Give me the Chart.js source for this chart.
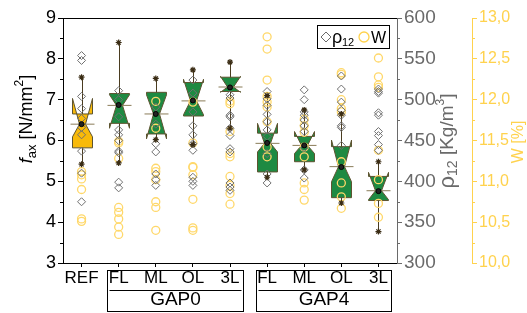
<!DOCTYPE html>
<html>
<head>
<meta charset="utf-8">
<script src="https://cdn.jsdelivr.net/npm/chart.js@4.4.1/dist/chart.umd.min.js"></script>
<style>
html, body { margin: 0; padding: 0; background: #fff; }
</style>
</head>
<body>
<canvas id="myChart" width="527" height="313"></canvas>
<script>
var categories = ['REF', 'FL', 'ML', 'OL', '3L', 'FL', 'ML', 'OL', '3L'];
var groupNames = ['GAP0', 'GAP4'];
var groupFrom = [1, 5];
var groupTo = [4, 8];

// f_ax box statistics, one value per category
var boxQ1 = [5.82, 6.42, 6.16, 6.60, 7.20, 5.23, 5.48, 4.60, 4.53];
var boxQ3 = [6.65, 7.15, 7.18, 7.42, 7.55, 6.18, 6.10, 5.85, 5.12];
var boxMedian = [6.40, 6.86, 6.65, 6.97, 7.31, 5.93, 5.88, 5.36, 4.77];
var notchLow = [6.09, 6.30, 6.04, 6.63, 7.18, 5.72, 5.68, 4.99, 4.55];
var notchHigh = [7.03, 7.12, 7.12, 7.50, 7.57, 6.42, 6.22, 6.01, 5.22];
var boxMean = [6.40, 6.87, 6.65, 6.98, 7.30, 5.94, 5.88, 5.35, 4.76];
var whiskerLow = [5.42, 5.45, 6.02, 5.90, 6.30, 5.10, 5.28, 4.47, 3.77];
var whiskerHigh = [7.55, 8.40, 7.52, 7.73, 7.92, 7.10, 6.75, 6.65, 5.48];

// density rho12 [kg/m3], per category
var rhoValues = [
    [554, 548, 504, 489, 477, 466, 457, 437, 410, 375],
    [511, 500, 479, 463, 457, 450, 437, 435, 399, 392],
    [491, 470, 446, 436, 409, 402, 395],
    [524, 508, 485, 468, 457, 446, 438, 405, 400, 395],
    [506, 502, 481, 479, 465, 456, 440, 436, 398, 393, 389],
    [510, 501, 493, 482, 473, 463, 455, 434, 409, 398],
    [512, 500, 485, 481, 475, 468, 461, 441, 414, 404],
    [529, 513, 497, 487, 481, 468, 466, 444],
    [513, 510, 508, 484, 481, 461, 456, 445, 438]
];

// moisture W [%], per category
var waterValues = [
    [11.12, 11.08, 11.03, 10.90, 10.54, 10.51],
    [11.49, 11.47, 11.28, 10.68, 10.62, 10.54, 10.44, 10.35],
    [11.98, 11.65, 11.16, 11.12, 11.02, 10.75, 10.68, 10.40],
    [11.97, 11.47, 11.18, 11.17, 11.08, 10.78, 10.43, 10.40],
    [11.98, 11.95, 11.61, 11.34, 11.30, 11.06, 10.95, 10.85, 10.72],
    [12.77, 12.62, 12.24, 12.04, 11.97, 11.91, 11.73, 11.42, 11.30],
    [11.76, 11.68, 11.60, 11.42, 11.30, 10.98, 10.90, 10.77],
    [12.33, 12.31, 12.00, 11.89, 11.85, 11.24, 10.98, 10.81, 10.67],
    [12.51, 12.28, 12.18, 12.15, 11.38, 11.02, 10.73, 10.56]
];

var FONT = "'Liberation Sans Narrow', 'Liberation Sans', Arial, sans-serif";
var GREY = '#6a6a6a';
var YELLOW = '#FFD24D';

function flatten(lists) {
    var out = [];
    lists.forEach(function(list, i) {
        list.forEach(function(v) { out.push({x: i, y: v}); });
    });
    return out;
}

function drawRich(ctx, parts, cx, cy, color) {
    var total = 0;
    parts.forEach(function(p) {
        ctx.font = p.font;
        p.w = ctx.measureText(p.t).width;
        total += p.w;
    });
    ctx.save();
    ctx.translate(cx, cy);
    ctx.rotate(-Math.PI / 2);
    ctx.fillStyle = color;
    ctx.textBaseline = 'middle';
    ctx.textAlign = 'left';
    var x = -total / 2;
    parts.forEach(function(p) {
        ctx.font = p.font;
        ctx.fillText(p.t, x, p.dy || 0);
        x += p.w;
    });
    ctx.restore();
}

var boxPlugin = {
    id: 'boxes',
    beforeDatasetsDraw: function(chart) {
        var ctx = chart.ctx, xs = chart.scales.x, ys = chart.scales.y;
        var half = 10, inner = 3;
        ctx.save();
        categories.forEach(function(c, i) {
            var x = Math.round(xs.getPixelForValue(i)) + 0.5;
            ctx.strokeStyle = '#4a3c20';
            ctx.lineWidth = 1;
            ctx.beginPath();
            ctx.moveTo(x, ys.getPixelForValue(whiskerLow[i]));
            ctx.lineTo(x, ys.getPixelForValue(whiskerHigh[i]));
            ctx.stroke();

            var q1 = ys.getPixelForValue(boxQ1[i]), q3 = ys.getPixelForValue(boxQ3[i]);
            var md = ys.getPixelForValue(boxMedian[i]);
            var nl = ys.getPixelForValue(notchLow[i]), nh = ys.getPixelForValue(notchHigh[i]);
            ctx.beginPath();
            ctx.moveTo(x - half, q3);
            ctx.lineTo(x - half, nh);
            ctx.lineTo(x - inner, md);
            ctx.lineTo(x - half, nl);
            ctx.lineTo(x - half, q1);
            ctx.lineTo(x + half, q1);
            ctx.lineTo(x + half, nl);
            ctx.lineTo(x + inner, md);
            ctx.lineTo(x + half, nh);
            ctx.lineTo(x + half, q3);
            ctx.closePath();
            ctx.fillStyle = i === 0 ? '#F8BA0A' : '#1E8A42';
            ctx.fill();
            ctx.strokeStyle = '#5e5430';
            ctx.stroke();

            ctx.strokeStyle = '#8a7c58';
            ctx.beginPath();
            ctx.moveTo(x - 12, md);
            ctx.lineTo(x + 12, md);
            ctx.stroke();
        });
        ctx.restore();
    },
    afterDraw: function(chart) {
        var ctx = chart.ctx, area = chart.chartArea, xs = chart.scales.x;
        var ys = chart.scales.y, y1 = chart.scales.y1, y2 = chart.scales.y2;
        ctx.save();
        ctx.lineWidth = 1;
        // top frame
        ctx.strokeStyle = '#000';
        ctx.beginPath();
        ctx.moveTo(area.left, area.top + 0.5);
        ctx.lineTo(area.right, area.top + 0.5);
        ctx.stroke();

        // minor ticks
        var v, p;
        for (v = 3.5; v < 9; v += 1) {
            p = Math.round(ys.getPixelForValue(v)) + 0.5;
            ctx.beginPath(); ctx.moveTo(ys.right, p); ctx.lineTo(ys.right - 3, p); ctx.stroke();
        }
        ctx.strokeStyle = GREY;
        for (v = 325; v < 600; v += 50) {
            p = Math.round(y1.getPixelForValue(v)) + 0.5;
            ctx.beginPath(); ctx.moveTo(y1.left, p); ctx.lineTo(y1.left + 3, p); ctx.stroke();
        }
        ctx.strokeStyle = YELLOW;
        for (v = 10.25; v < 13; v += 0.5) {
            p = Math.round(y2.getPixelForValue(v)) + 0.5;
            ctx.beginPath(); ctx.moveTo(y2.left, p); ctx.lineTo(y2.left + 3, p); ctx.stroke();
        }

        // group brackets under the x axis
        ctx.strokeStyle = '#000';
        ctx.fillStyle = '#000';
        ctx.font = '19px ' + FONT;
        ctx.textAlign = 'center';
        ctx.textBaseline = 'middle';
        groupNames.forEach(function(g, k) {
            var l = Math.round(xs.getPixelForValue(groupFrom[k] - 0.5) + 7) + 0.5;
            var r = Math.round(xs.getPixelForValue(groupTo[k] + 0.5) - 6) + 0.5;
            ctx.strokeRect(l, 270.5, r - l, 41);
            ctx.beginPath();
            ctx.moveTo(l + 2, 290.5);
            ctx.lineTo(r - 2, 290.5);
            ctx.stroke();
            ctx.fillText(g, (l + r) / 2, 300);
        });

        // axis titles
        drawRich(ctx, [
            {t: 'f', font: 'italic 18px ' + FONT},
            {t: 'ax', font: '13px ' + FONT, dy: 5},
            {t: ' [N/mm', font: '18px ' + FONT},
            {t: '2', font: '12px ' + FONT, dy: -7},
            {t: ']', font: '18px ' + FONT}
        ], 27, 119, '#000');
        drawRich(ctx, [
            {t: '\u03C1', font: '22px ' + FONT},
            {t: '12', font: '14px ' + FONT, dy: 5},
            {t: ' [Kg/m', font: '19px ' + FONT},
            {t: '3', font: '12px ' + FONT, dy: -7},
            {t: ']', font: '19px ' + FONT}
        ], 448, 141, GREY);
        drawRich(ctx, [{t: 'W [%]', font: '16px ' + FONT}], 519, 142, YELLOW);

        // legend
        ctx.fillStyle = '#fff';
        ctx.fillRect(317.5, 25.5, 72, 23);
        ctx.strokeStyle = '#000';
        ctx.strokeRect(317.5, 25.5, 72, 23);
        ctx.strokeStyle = GREY;
        ctx.beginPath();
        ctx.moveTo(326, 32); ctx.lineTo(331, 37); ctx.lineTo(326, 42); ctx.lineTo(321, 37);
        ctx.closePath(); ctx.stroke();
        ctx.fillStyle = '#000';
        ctx.textAlign = 'left';
        ctx.textBaseline = 'alphabetic';
        ctx.font = '18px ' + FONT;
        ctx.fillText('\u03C1', 332, 43);
        ctx.font = '11px ' + FONT;
        ctx.fillText('12', 342, 46);
        ctx.strokeStyle = YELLOW;
        ctx.lineWidth = 1.3;
        ctx.beginPath(); ctx.arc(364, 37, 5, 0, Math.PI * 2); ctx.stroke();
        ctx.font = '16px ' + FONT;
        ctx.fillText('W', 371, 43);
        ctx.restore();
    }
};

var config = {
    type: 'scatter',
    data: {
        datasets: [{
            label: 'mean',
            data: boxMean.map(function(v, i) { return {x: i, y: v}; }),
            yAxisID: 'y',
            pointStyle: 'circle',
            pointRadius: 2.5,
            backgroundColor: '#222',
            borderColor: '#000',
            borderWidth: 1
        }, {
            label: 'caps',
            data: flatten(categories.map(function(c, i) { return [whiskerLow[i], whiskerHigh[i]]; })),
            yAxisID: 'y',
            pointStyle: 'star',
            pointRadius: 3,
            borderColor: '#3a2c14',
            borderWidth: 1.2
        }, {
            label: 'rho12',
            data: flatten(rhoValues),
            yAxisID: 'y1',
            pointStyle: 'rectRot',
            pointRadius: 4,
            backgroundColor: 'rgba(0,0,0,0)',
            borderColor: '#707070',
            borderWidth: 1
        }, {
            label: 'W',
            data: flatten(waterValues),
            yAxisID: 'y2',
            pointStyle: 'circle',
            pointRadius: 4,
            backgroundColor: 'rgba(0,0,0,0)',
            borderColor: '#FFD86A',
            borderWidth: 1.3
        }]
    },
    options: {
        responsive: false,
        animation: false,
        layout: {padding: {top: 18, left: 0, right: 0, bottom: 0}},
        plugins: {legend: {display: false}, tooltip: {enabled: false}},
        scales: {
            x: {
                type: 'linear',
                min: -0.5, max: 8.5,
                grid: {display: true, drawOnChartArea: false, tickLength: 4, tickColor: '#000'},
                border: {color: '#000'},
                afterBuildTicks: function(scale) {
                    scale.ticks = categories.map(function(c, i) { return {value: i}; });
                },
                ticks: {
                    color: '#000', font: {family: FONT, size: 17}, padding: 1, autoSkip: false, maxRotation: 0,
                    callback: function(v) { return categories[v]; }
                },
                afterFit: function(scale) { scale.height = 50; }
            },
            y: {
                position: 'left',
                min: 3, max: 9,
                grid: {drawOnChartArea: false, tickLength: 5, tickColor: '#000'},
                border: {color: '#000'},
                ticks: {stepSize: 1, color: '#000', font: {family: FONT, size: 18}, padding: 2},
                afterFit: function(scale) { scale.width = 63; }
            },
            y1: {
                position: 'right',
                weight: 0,
                min: 300, max: 600,
                grid: {drawOnChartArea: false, tickLength: 5, tickColor: GREY},
                border: {color: GREY},
                ticks: {stepSize: 50, color: GREY, font: {family: FONT, size: 19}, padding: 2},
                afterFit: function(scale) { scale.width = 75; }
            },
            y2: {
                position: 'right',
                weight: 1,
                min: 10, max: 13,
                grid: {drawOnChartArea: false, tickLength: 5, tickColor: YELLOW},
                border: {color: YELLOW},
                ticks: {
                    stepSize: 0.5, color: YELLOW, font: {family: FONT, size: 16}, padding: 2,
                    callback: function(v) { return v.toFixed(1).replace('.', ','); }
                },
                afterFit: function(scale) { scale.width = 55; }
            }
        }
    },
    plugins: [boxPlugin]
};

var myChart = new Chart(document.getElementById('myChart').getContext('2d'), config);
</script>
</body>
</html>
